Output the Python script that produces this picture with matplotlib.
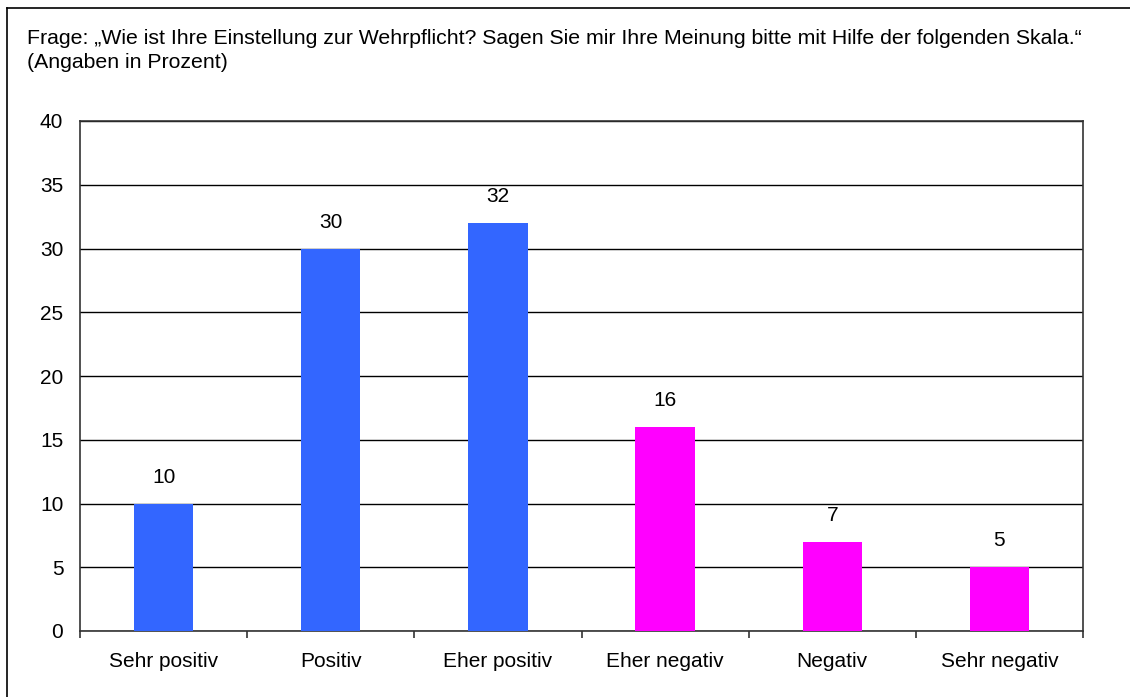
import matplotlib
matplotlib.use("Agg")
import matplotlib.pyplot as plt
from matplotlib.lines import Line2D
import numpy as np

plt.rcParams['font.family'] = ['Liberation Sans', 'DejaVu Sans']

categories = ["Sehr positiv", "Positiv", "Eher positiv", "Eher negativ", "Negativ", "Sehr negativ"]
values = [10, 30, 32, 16, 7, 5]
colors = ["#3366FF", "#3366FF", "#3366FF", "#FF00FF", "#FF00FF", "#FF00FF"]
yticks = [0, 5, 10, 15, 20, 25, 30, 35, 40]
title_lines = ["Frage: \u201eWie ist Ihre Einstellung zur Wehrpflicht? Sagen Sie mir Ihre Meinung bitte mit Hilfe der folgenden Skala.\u201c",
               "(Angaben in Prozent)"]

W, H = 1130, 697
fig = plt.figure(figsize=(W / 100, H / 100), dpi=100)
ax = fig.add_axes([80 / W, 1 - 631 / H, (1083 - 80) / W, (631 - 121) / H])

FS = 15
x = np.arange(len(categories))
bars = ax.bar(x, values, width=0.355, color=colors, zorder=3)
for xi, v in zip(x, values):
    ax.annotate(str(v), (xi, v), xytext=(0, 19), textcoords="offset points",
                ha="center", va="center", fontsize=FS)

ax.set_xlim(-0.5, len(categories) - 0.5)
ax.set_ylim(0, 40)
ax.set_yticks(yticks)
ax.tick_params(axis="y", length=0, pad=12, labelsize=FS)
ax.yaxis.grid(True, color="black", linewidth=1.0, zorder=0)
ax.set_axisbelow(True)

ax.set_xticks(x)
ax.set_xticklabels(categories, fontsize=FS)
ax.tick_params(axis="x", which="major", length=0, pad=15)
ax.set_xticks(np.arange(-0.5, len(categories)), minor=True)
ax.tick_params(axis="x", which="minor", length=5, width=1.2, color="#333333", direction="out")

for s in ax.spines.values():
    s.set_color("#333333")
    s.set_linewidth(1.2)

# outer frame (top and left edges visible)
fig.add_artist(Line2D([7 / W, 1.01], [1 - 8 / H, 1 - 8 / H], transform=fig.transFigure, color="black", linewidth=1.2))
fig.add_artist(Line2D([7 / W, 7 / W], [1 - 8 / H, -0.01], transform=fig.transFigure, color="black", linewidth=1.2))

for i, line in enumerate(title_lines):
    fig.text(27 / W, 1 - (44 + 24 * i) / H, line, ha="left", va="baseline", fontsize=15.3)

fig.savefig("out.png", dpi=100)
